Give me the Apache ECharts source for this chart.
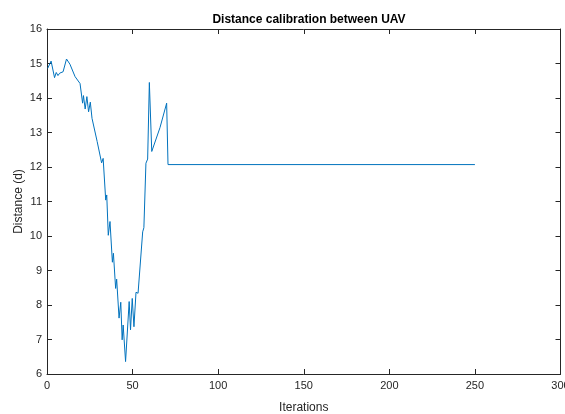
<!DOCTYPE html>
<html>
<head>
    <meta charset="utf-8">
    <title>Distance calibration between UAV</title>
    <script src="https://cdn.jsdelivr.net/npm/echarts@6/dist/echarts.min.js"></script>
</head>
<body style="margin:0">
    <div id="main" style="width: 565px; height: 414px;"></div>

    <script>
        // 迭代次数 (x) 与距离 (y)
        var iterations = [0.4, 2.4, 4.4, 5.4, 6.4, 7.4, 8.4, 9.4, 10.4, 11.4, 13.4, 16.4, 19.3, 20.3, 20.8, 21.3, 22.3, 23.3, 24.3, 25.3, 26.3, 27.3, 29.3, 30.3,
            31.9, 32.8, 34.3, 34.9, 35.8, 36.8, 38.2, 38.8, 40.1, 40.7, 42.1, 43.1, 43.9, 44.5, 45.9, 48.0, 48.8, 49.8,
            50.8, 52.0, 53.2, 54.2, 55.9, 56.6, 57.8, 58.8, 59.8, 61.2, 66.0, 69.9, 70.7, 250];
        var distance = [14.86, 15.07, 14.59, 14.74, 14.65, 14.72, 14.69, 14.76, 14.74, 15.13, 14.98, 14.62, 14.42, 14.38, 13.85, 14.07, 13.68, 14.04, 13.6, 13.88, 13.41, 13.46, 12.74, 12.75,
            12.12, 12.25, 11.04, 11.19, 10.02, 10.42, 9.24, 9.5, 8.48, 8.75, 7.62, 8.08, 6.99, 7.42, 6.36, 8.1, 7.28, 8.19,
            7.37, 8.37, 8.34, 8.29, 10.12, 10.24, 12.11, 12.23, 14.45, 12.45, 13.14, 13.85, 12.07, 12.07];

        var myChart = echarts.init(document.getElementById('main'));

        var font = 'Liberation Sans, Arial, Helvetica, sans-serif';
        var axisColor = '#262626';

        // 四周的坐标轴，刻度朝内
        function boxAxis(pos, isX, showLabel) {
            return {
                type: 'value',
                position: pos,
                min: isX ? 0 : 6,
                max: isX ? 300 : 16,
                interval: isX ? 50 : 1,
                axisLine: { show: true, onZero: false, lineStyle: { color: axisColor, width: 1 } },
                axisTick: { show: true, inside: true, length: 5, lineStyle: { color: axisColor } },
                axisLabel: { show: showLabel, color: axisColor, fontSize: 11, fontFamily: font, margin: isX ? 6 : 5 },
                splitLine: { show: false }
            };
        }

        var xMain = boxAxis('bottom', true, true);
        xMain.name = 'Iterations';
        xMain.nameLocation = 'middle';
        xMain.nameGap = 28;
        xMain.nameTextStyle = { color: axisColor, fontSize: 12, fontFamily: font };

        var yMain = boxAxis('left', false, true);
        yMain.name = 'Distance (d)';
        yMain.nameLocation = 'middle';
        yMain.nameGap = 22;
        yMain.nameMoveOverlap = false;
        yMain.nameTextStyle = { color: axisColor, fontSize: 12, fontFamily: font };

        var option = {
            animation: false,
            title: {
                text: 'Distance calibration between UAV',
                left: 304,
                textAlign: 'center',
                top: 9,
                textStyle: { fontSize: 12, fontWeight: 'bold', color: '#000', fontFamily: font }
            },
            grid: { left: 47, right: 4.5, top: 29, bottom: 40, containLabel: false, outerBoundsMode: 'none' },
            xAxis: [xMain, boxAxis('top', true, false)],
            yAxis: [yMain, boxAxis('right', false, false)],
            series: [{
                type: 'line',
                data: iterations.map(function (x, i) { return [x, distance[i]]; }),
                showSymbol: false,
                lineStyle: { color: '#0072BD', width: 1 },
                itemStyle: { color: '#0072BD' }
            }]
        };

        myChart.setOption(option);
    </script>
</body>
</html>
